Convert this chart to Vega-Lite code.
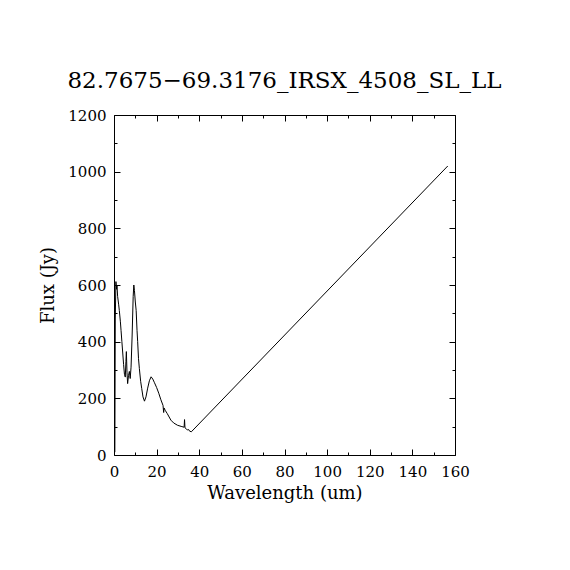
{
  "$schema": "https://vega.github.io/schema/vega-lite/v6.json",
  "width": 341,
  "height": 340,
  "autosize": {"type": "none"},
  "padding": {"left": 114, "top": 115, "right": 115, "bottom": 115},
  "background": "white",
  "title": {
    "text": "82.7675\u221269.3176_IRSX_4508_SL_LL",
    "font": "DejaVu Serif",
    "fontSize": 23,
    "fontWeight": "normal",
    "color": "black",
    "baseline": "alphabetic",
    "offset": 0,
    "dy": 3
  },
  "data": {
    "values": [
      {"wavelength": 0.4, "flux": 10},
      {"wavelength": 0.6, "flux": 480},
      {"wavelength": 0.9, "flux": 612},
      {"wavelength": 1.2, "flux": 585},
      {"wavelength": 1.4, "flux": 600},
      {"wavelength": 1.7, "flux": 560},
      {"wavelength": 2.2, "flux": 530},
      {"wavelength": 2.5, "flux": 510},
      {"wavelength": 3.0, "flux": 470},
      {"wavelength": 3.3, "flux": 440},
      {"wavelength": 3.7, "flux": 400},
      {"wavelength": 4.1, "flux": 360},
      {"wavelength": 4.5, "flux": 320},
      {"wavelength": 4.9, "flux": 285},
      {"wavelength": 5.3, "flux": 275},
      {"wavelength": 5.6, "flux": 330},
      {"wavelength": 5.8, "flux": 365},
      {"wavelength": 6.1, "flux": 290},
      {"wavelength": 6.4, "flux": 252},
      {"wavelength": 6.8, "flux": 280},
      {"wavelength": 7.2, "flux": 295},
      {"wavelength": 7.6, "flux": 270},
      {"wavelength": 8.0, "flux": 310},
      {"wavelength": 8.5, "flux": 420},
      {"wavelength": 9.0, "flux": 560},
      {"wavelength": 9.3, "flux": 600},
      {"wavelength": 9.6, "flux": 580},
      {"wavelength": 10.0, "flux": 540},
      {"wavelength": 10.4, "flux": 510},
      {"wavelength": 10.8, "flux": 440},
      {"wavelength": 11.1, "flux": 400},
      {"wavelength": 11.5, "flux": 340},
      {"wavelength": 11.9, "flux": 305},
      {"wavelength": 12.5, "flux": 260},
      {"wavelength": 13.0, "flux": 235},
      {"wavelength": 13.6, "flux": 205},
      {"wavelength": 14.3, "flux": 190},
      {"wavelength": 15.0, "flux": 205},
      {"wavelength": 15.8, "flux": 236},
      {"wavelength": 16.6, "flux": 262},
      {"wavelength": 17.4, "flux": 276},
      {"wavelength": 18.2, "flux": 268},
      {"wavelength": 19.0, "flux": 255},
      {"wavelength": 20.0, "flux": 238},
      {"wavelength": 21.0, "flux": 218},
      {"wavelength": 22.0, "flux": 195},
      {"wavelength": 23.0, "flux": 175},
      {"wavelength": 23.3, "flux": 150},
      {"wavelength": 23.5, "flux": 166},
      {"wavelength": 24.0, "flux": 158},
      {"wavelength": 25.0, "flux": 146},
      {"wavelength": 26.7, "flux": 123},
      {"wavelength": 28.0, "flux": 113},
      {"wavelength": 29.8, "flux": 105},
      {"wavelength": 31.5, "flux": 101},
      {"wavelength": 32.9, "flux": 98},
      {"wavelength": 33.1, "flux": 125},
      {"wavelength": 33.3, "flux": 96},
      {"wavelength": 34.0, "flux": 92},
      {"wavelength": 34.5, "flux": 88},
      {"wavelength": 35.0, "flux": 90},
      {"wavelength": 35.5, "flux": 84},
      {"wavelength": 36.3, "flux": 82},
      {"wavelength": 156.6, "flux": 1020}
    ]
  },
  "layer": [
    {
      "mark": {"type": "line", "color": "black", "strokeWidth": 1},
      "encoding": {
        "x": {
          "field": "wavelength",
          "type": "quantitative",
          "scale": {"domain": [0, 160], "nice": false, "zero": false},
          "axis": {
            "orient": "bottom",
            "title": "Wavelength (um)",
            "values": [0, 20, 40, 60, 80, 100, 120, 140, 160],
            "format": "d",
            "tickSize": -6,
            "labelPadding": 15,
            "titlePadding": 5,
            "grid": false
          }
        },
        "y": {
          "field": "flux",
          "type": "quantitative",
          "scale": {"domain": [0, 1200], "nice": false},
          "axis": {
            "orient": "left",
            "title": "Flux (Jy)",
            "values": [0, 200, 400, 600, 800, 1000, 1200],
            "format": "d",
            "tickSize": -6,
            "labelPadding": 14,
            "titlePadding": 10,
            "grid": false
          }
        }
      }
    },
    {
      "mark": {"type": "line", "opacity": 0},
      "encoding": {
        "x": {
          "field": "wavelength",
          "type": "quantitative",
          "axis": {
            "orient": "bottom",
            "title": null,
            "values": [10, 30, 50, 70, 90, 110, 130, 150],
            "tickSize": -3,
            "labels": false,
            "domain": false,
            "grid": false
          }
        },
        "y": {
          "field": "flux",
          "type": "quantitative",
          "axis": {
            "orient": "left",
            "title": null,
            "values": [100, 300, 500, 700, 900, 1100],
            "tickSize": -3,
            "labels": false,
            "domain": false,
            "grid": false
          }
        }
      }
    },
    {
      "mark": {"type": "line", "opacity": 0},
      "encoding": {
        "x": {
          "field": "wavelength",
          "type": "quantitative",
          "axis": {
            "orient": "top",
            "title": null,
            "values": [0, 20, 40, 60, 80, 100, 120, 140, 160],
            "tickSize": -6,
            "labels": false,
            "grid": false
          }
        },
        "y": {
          "field": "flux",
          "type": "quantitative",
          "axis": {
            "orient": "right",
            "title": null,
            "values": [0, 200, 400, 600, 800, 1000, 1200],
            "tickSize": -6,
            "labels": false,
            "grid": false
          }
        }
      }
    },
    {
      "mark": {"type": "line", "opacity": 0},
      "encoding": {
        "x": {
          "field": "wavelength",
          "type": "quantitative",
          "axis": {
            "orient": "top",
            "title": null,
            "values": [10, 30, 50, 70, 90, 110, 130, 150],
            "tickSize": -3,
            "labels": false,
            "domain": false,
            "grid": false
          }
        },
        "y": {
          "field": "flux",
          "type": "quantitative",
          "axis": {
            "orient": "right",
            "title": null,
            "values": [100, 300, 500, 700, 900, 1100],
            "tickSize": -3,
            "labels": false,
            "domain": false,
            "grid": false
          }
        }
      }
    }
  ],
  "resolve": {"axis": {"x": "independent", "y": "independent"}},
  "config": {
    "view": {"stroke": null},
    "axis": {
      "domainColor": "black",
      "domainWidth": 1,
      "tickColor": "black",
      "tickWidth": 1,
      "labelFont": "DejaVu Serif",
      "labelFontSize": 15,
      "labelColor": "black",
      "labelFlush": false,
      "labelOverlap": false,
      "titleFont": "DejaVu Serif",
      "titleFontSize": 18,
      "titleFontWeight": "normal",
      "titleColor": "black"
    }
  }
}
